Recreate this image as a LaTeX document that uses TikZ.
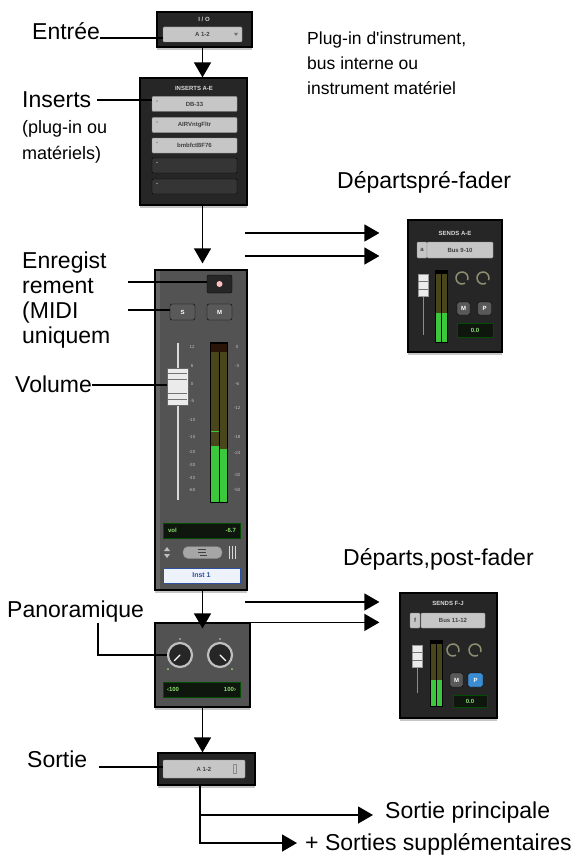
\documentclass[tikz,border=0pt]{standalone}
\usepackage{fontspec}
\setmainfont{Liberation Sans}
\usetikzlibrary{arrows.meta,positioning,shadows}

\definecolor{panel}{HTML}{262626}
\definecolor{stripgray}{HTML}{535353}
\definecolor{slotgray}{HTML}{C6C6C6}
\definecolor{slotedge}{HTML}{8C8C8C}
\definecolor{slotdark}{HTML}{353535}
\definecolor{metergreen}{HTML}{3CC83C}
\definecolor{meterolive}{HTML}{4A461C}
\definecolor{metertop}{HTML}{2A1408}
\definecolor{lcdgreen}{HTML}{8CE070}
\definecolor{lcdback}{HTML}{0E160E}
\definecolor{instblue}{HTML}{2F4F9F}
\definecolor{instback}{HTML}{EEF2FB}
\definecolor{sendblue}{HTML}{3C8CD2}
\definecolor{knobline}{HTML}{8E8E70}

\tikzset{
  lbl/.style={font=\fontsize{23}{26}\selectfont, inner sep=0pt, anchor=base west},
  note/.style={font=\fontsize{17.5}{20}\selectfont, inner sep=0pt, anchor=base west},
  flow/.style={line width=1.4pt, -{Triangle[length=15pt,width=17pt]}},
  lead/.style={line width=1.2pt},
  panelbox/.style={draw=black, line width=1.2pt, fill=panel, inner sep=0pt,
    drop shadow={shadow xshift=0pt, shadow yshift=-3pt, opacity=.45}},
  tiny/.style={font=\fontsize{6}{7}\selectfont\bfseries, inner sep=0pt},
  slot/.style={tiny, draw=slotedge, fill=slotgray, text=black!75, rounded corners=1pt,
    minimum width=85pt, minimum height=15pt},
  emptyslot/.style={draw=black, fill=slotdark, rounded corners=1pt,
    minimum width=85pt, minimum height=15pt, inner sep=0pt},
  lcd/.style={tiny, draw=black!70!green, fill=lcdback, text=lcdgreen, minimum height=15pt},
  btn/.style={tiny, draw=black, fill=black!65, text=white, rounded corners=2pt,
    minimum width=25pt, minimum height=16pt},
  scalenum/.style={font=\fontsize{4.5}{5}\selectfont, text=black!25, inner sep=0pt},
}

\begin{document}
\begin{tikzpicture}[x=1pt,y=-1pt]
\useasboundingbox (0,0) rectangle (576,856);

% I/O
\node[panelbox, minimum width=95pt, minimum height=35pt] (io) at (204.5,29.5) {};
\node[tiny, text=black!15] (iot) at (204,19) {I / O};
\node[slot, minimum width=79pt] (iosel) at (202.5,34.5) {A 1-2};
\fill[black!55] (234,33) -- ++(4,0) -- ++(-2,3) -- cycle;

% inserts
\node[panelbox, minimum width=107pt, minimum height=127pt] (ins) at (193.5,141.5) {};
\node[tiny, text=black!15] (inst) at (194,88) {INSERTS A-E};
\node[slot] (sa) at (194.5,104) {DB-33};
\node[slot] (sb) at (194.5,125) {AIRVntgFltr};
\node[slot] (sc) at (194.5,145.5) {bmbfctBF76};
\node[emptyslot] (sd) at (194.5,165.5) {};
\node[emptyslot] (se) at (194.5,186.5) {};
\foreach \y in {104,125,145.5,165.5,186.5}
  \fill[black!45] (157,\y-3) circle (0.8);

% channel strip
\node[panelbox, fill=stripgray, minimum width=92pt, minimum height=320pt] (strip) at (201,430) {};
\fill[black!60] (156,271) rectangle (160,589);
\node[btn, fill=black!85, minimum height=18pt] (rec) at (219.5,284) {};
\fill[red!25] (rec) circle (3);
\node[btn] (solo) at (182.5,312) {S};
\node[btn] (mute) at (219.5,312) {M};

\draw[black!15, line width=1.5pt] (178,343) -- (178,500);
\node[draw=black!60, fill=black!8, minimum width=21pt, minimum height=37pt, inner sep=0pt] (fad) at (177.5,386.5) {};
\foreach \y in {373,379,393,399}
  \draw[black!55, line width=1pt] (168,\y) -- (187,\y);
\foreach \n/\y in {12/347,6/366,0/384,-5/401,-10/420,-15/437,-20/452,-30/465,-40/478,-60/490}
  \node[scalenum] (sl\y) at (192,\y) {\n};

\fill[black] (210,342) rectangle (228,503);
\fill[metertop] (211,344) rectangle (227,352);
\fill[meterolive] (211,352) rectangle (218.5,502);
\fill[meterolive] (219.5,352) rectangle (227,502);
\fill[metergreen] (211,446) rectangle (218.5,502);
\fill[metergreen] (219.5,449) rectangle (227,502);
\draw[metergreen, line width=1pt] (211,431) -- (218.5,431);
\foreach \n/\y in {0/347,-3/366,-6/384,-12/408,-18/437,-24/453,-32/475,-50/490}
  \node[scalenum] (sr\y) at (237,\y) {\n};

\node[lcd, minimum width=77pt] (vol) at (201.5,530.5) {};
\node[tiny, text=lcdgreen, anchor=west] (volt) at ([xshift=5pt]vol.west) {vol};
\node[tiny, text=lcdgreen, anchor=east] (volv) at ([xshift=-4pt]vol.east) {-6.7};

\fill[black!25] (164,551) -- ++(6,0) -- ++(-3,-4) -- cycle;
\fill[black!25] (164,554) -- ++(6,0) -- ++(-3,4) -- cycle;
\node[draw=black!50, fill=black!35, rounded corners=5pt, minimum width=39pt, minimum height=12pt] (grp) at (202.5,552.5) {};
\draw[black!75, line width=1pt] (198,549) -- (206,549) (198,552) -- (206,552) (200,555) -- (207,555);
\foreach \x in {229,232,235}
  \draw[black!15, line width=1pt] (\x,546) -- (\x,559);
\node[tiny, font=\fontsize{7}{8}\selectfont\bfseries, draw=instblue, line width=1pt, fill=instback, text=instblue,
  minimum width=77pt, minimum height=15pt] (name) at (201.5,575.5) {Inst 1};

% pan
\node[panelbox, fill=black!68, minimum width=95pt, minimum height=84pt] (pan) at (202.5,665) {};
\foreach \x/\a [count=\i] in {180/135,220/45} {
  \node[circle, draw=black!25, line width=2.2pt, fill=black!85, minimum size=24pt, inner sep=0pt] (k\i) at (\x,655) {};
  \draw[white, line width=1.3pt, line cap=round] (k\i.center) -- +(\a:8);
  \fill[black!20] (\x,639) circle (0.9);
}
\fill[lcdgreen] (168,669) circle (1);
\fill[lcdgreen] (232,669) circle (1);
\node[lcd, minimum width=77pt] (pdisp) at (201.5,689.5) {};
\node[tiny, text=lcdgreen, anchor=west] (pl) at ([xshift=4pt]pdisp.west) {‹100};
\node[tiny, text=lcdgreen, anchor=east] (pr) at ([xshift=-4pt]pdisp.east) {100›};

% output
\node[panelbox, minimum width=97pt, minimum height=32pt] (out) at (206.5,769) {};
\node[slot, minimum width=82pt, minimum height=18pt] (outsel) at (204,769) {A 1-2};
\draw[black!45] (233,764) rectangle (236,773);

% sends A-E
\node[panelbox, minimum width=94pt, minimum height=132pt] (sae) at (455,286) {};
\node[tiny, text=black!15] (saet) at (455,233) {SENDS A-E};
\node[slot, minimum width=10pt, minimum height=16pt] (cha) at (422,250) {a};
\node[slot, minimum width=66pt, minimum height=16pt] (busa) at (460,250) {Bus 9-10};
\draw[black!45, line width=1pt] (423,275) -- (423,335);
\node[draw=black!40, fill=black!8, minimum width=10pt, minimum height=22pt, inner sep=0pt] (fa) at (423,285) {};
\foreach \y in {281,289}
  \draw[black!55, line width=1pt] (418,\y) -- (428,\y);
\fill[black] (435,270) rectangle (448,343);
\fill[meterolive] (436,274) rectangle (441,342);
\fill[meterolive] (442,274) rectangle (447,342);
\fill[metergreen] (436,313) rectangle (441,342);
\fill[metergreen] (442,313) rectangle (447,342);
\foreach \x in {462,483}
  \draw[knobline, line width=1.5pt] (\x,278) ++(60:6) arc (60:380:6);
\node[btn, minimum width=13pt, minimum height=13pt] (ma) at (463.5,308.5) {M};
\node[btn, minimum width=14pt, minimum height=13pt] (pa) at (484.5,308.5) {P};
\node[lcd, minimum width=36pt, minimum height=14pt] (ga) at (475,330) {0.0};

% sends F-J
\node[panelbox, minimum width=97pt, minimum height=125pt] (sfj) at (448.5,655.5) {};
\node[tiny, text=black!15] (sfjt) at (448,603) {SENDS F-J};
\node[slot, minimum width=10pt, minimum height=15pt] (chf) at (415,620.5) {f};
\node[slot, minimum width=64pt, minimum height=15pt] (busf) at (453,620.5) {Bus 11-12};
\draw[black!45, line width=1pt] (417,645) -- (417,693);
\node[draw=black!40, fill=black!8, minimum width=10pt, minimum height=22pt, inner sep=0pt] (ff) at (417,656) {};
\foreach \y in {652,660}
  \draw[black!55, line width=1pt] (412,\y) -- (422,\y);
\fill[black] (430,640) rectangle (443,707);
\fill[meterolive] (431,644) rectangle (436,706);
\fill[meterolive] (437,644) rectangle (442,706);
\fill[metergreen] (431,680) rectangle (436,706);
\fill[metergreen] (437,680) rectangle (442,706);
\foreach \x in {453,475}
  \draw[knobline, line width=1.5pt] (\x,650) ++(60:6) arc (60:380:6);
\node[btn, minimum width=13pt, minimum height=14pt] (mf) at (456.5,680) {M};
\node[btn, fill=sendblue, minimum width=15pt, minimum height=14pt] (pf) at (475.5,680) {P};
\node[lcd, minimum width=34pt, minimum height=12pt] (gf) at (470,701) {0.0};

% labels
\node[lbl] (entree) at (32,40) {Entrée};
\node[lbl] (inserts) at (22,108) {Inserts};
\node[note, font=\fontsize{18}{20}\selectfont] (ins1) at (22,133) {(plug-in ou};
\node[note, font=\fontsize{18}{20}\selectfont] (ins2) at (22,159) {matériels)};
\node[lbl] (rec1) at (22,268) {Enregist};
\node[lbl] (rec2) at (22,293) {rement};
\node[lbl] (rec3) at (22,318) {(MIDI};
\node[lbl] (rec4) at (22,343) {uniquem};
\node[lbl] (volume) at (15,392) {Volume};
\node[lbl] (panlbl) at (7,617) {Panoramique};
\node[lbl] (sortie) at (27,767) {Sortie};
\node[note] (src1) at (307,45) {Plug-in d\textquotesingle instrument,};
\node[note] (src2) at (307,70) {bus interne ou};
\node[note] (src3) at (307,95) {instrument matériel};
\node[lbl] (pre) at (337,188) {Départspré-fader};
\node[lbl] (post) at (343,565) {Départs,post-fader};
\node[lbl] (main) at (385,818) {Sortie principale};
\node[lbl] (extra) at (305,850) {+ Sorties supplémentaires};

% leads
\coordinate (e1) at ([yshift=2pt]entree.base east);
\coordinate (i1) at ([xshift=6pt,yshift=8pt]inserts.base east);
\coordinate (r1) at (128,282);
\coordinate (m1) at (128,310);
\coordinate (v1) at ([yshift=7pt]volume.base east);
\coordinate (p1) at (98,623);
\coordinate (o0) at ([xshift=12pt]sortie.base east);
\draw[lead] (e1) -- (e1 -| iosel.west);
\draw[lead] (i1) -- (i1 -| sa.west);
\draw[lead] (r1) -- (r1 -| rec.west);
\draw[lead] (m1) -- (m1 -| solo.west);
\draw[lead] (v1) -- (v1 -| fad.west);
\draw[lead] (p1) |- (k1.west);
\draw[lead] (o0) -- (o0 -| outsel.west);

% flow
\coordinate (c1) at (iosel.south |- io.south);
\coordinate (c2) at (iosel.south |- ins.south);
\coordinate (c3) at (iosel.south |- strip.south);
\coordinate (c4) at (iosel.south |- pan.south);
\coordinate (c5) at ([xshift=-6.5pt]out.south);
\coordinate (a1) at (245,233);
\coordinate (a2) at (245,256);
\coordinate (b1) at (245,602);
\coordinate (b2) at (pan.north east);
\coordinate (t1) at ([xshift=-12pt,yshift=3pt]main.base west);
\coordinate (t2) at ([xshift=-8pt,yshift=7pt]extra.base west);
\draw[flow] (c1) -- (c1 |- ins.north);
\draw[flow, shorten >=6pt] (c2) -- (c2 |- strip.north);
\draw[flow, shorten >=-6pt] (c3) -- (c3 |- pan.north);
\draw[flow] (c4) -- (c4 |- out.north);
\draw[flow, shorten >=28pt] (a1) -- (a1 -| sae.west);
\draw[flow, shorten >=28pt] (a2) -- (a2 -| sae.west);
\draw[flow, shorten >=20pt] (b1) -- (b1 -| sfj.west);
\draw[flow, shorten >=20pt] (b2) -- (b2 -| sfj.west);
\draw[flow] (c5) |- (t1);
\draw[flow] (c5) |- (t2);

\end{tikzpicture}
\end{document}
